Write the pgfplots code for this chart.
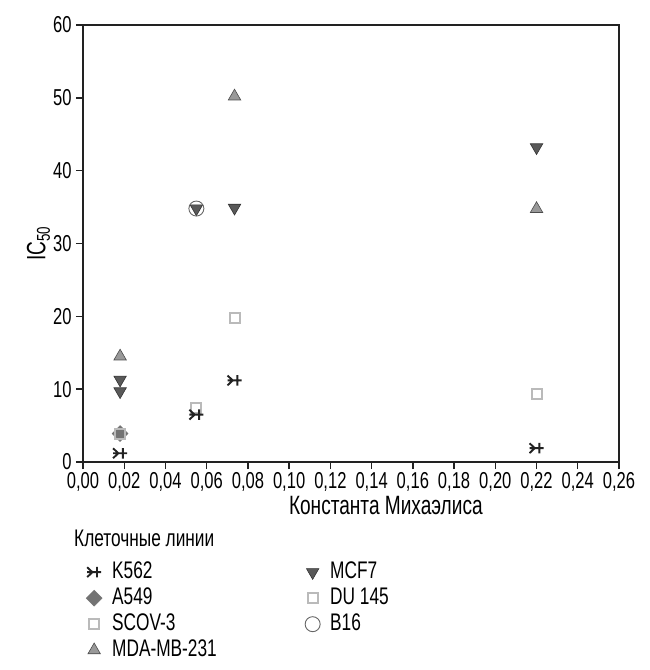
\documentclass[border=0pt]{standalone}
\usepackage{fontspec}
\setmainfont{Liberation Sans}[FakeStretch=0.72]
\usepackage{pgfplots}
\pgfplotsset{compat=1.18}

\pgfdeclareplotmark{kstar}{%
 \pgfpathmoveto{\pgfqpoint{-\pgfplotmarksize}{0pt}}%
 \pgfpathlineto{\pgfqpoint{\pgfplotmarksize}{0pt}}%
 \pgfpathmoveto{\pgfqpoint{0.4\pgfplotmarksize}{-0.75\pgfplotmarksize}}%
 \pgfpathlineto{\pgfqpoint{0.4\pgfplotmarksize}{0.75\pgfplotmarksize}}%
 \pgfpathmoveto{\pgfqpoint{-\pgfplotmarksize}{0.7\pgfplotmarksize}}%
 \pgfpathlineto{\pgfqpoint{-0.25\pgfplotmarksize}{0pt}}%
 \pgfpathlineto{\pgfqpoint{-\pgfplotmarksize}{-0.7\pgfplotmarksize}}%
 \pgfusepathqstroke}

\definecolor{axcol}{HTML}{222222}
\newcommand{\ff}{\fontsize{24}{29}\selectfont}
\newcommand{\ft}{\fontsize{23}{28}\selectfont}
\newcommand{\fl}{\fontsize{26.5}{31}\selectfont}
\pgfplotsset{
 sK/.style={only marks, mark=kstar, mark size=7pt, mark options={draw=axcol, line width=1.9pt}},
 sM/.style={only marks, mark=triangle*, mark size=7.2pt, mark options={rotate=180, fill=black!65, draw=black!80, line width=0.6pt}},
 sA/.style={only marks, mark=diamond*, mark size=8pt, mark options={xscale=1.33, fill=black!55, draw=black!55}},
 sD/.style={only marks, mark=square, mark size=5pt, mark options={draw=black!27, line width=2pt}},
 sS/.style={only marks, mark=square, mark size=5pt, mark options={draw=black!27, line width=2pt}},
 sB/.style={only marks, mark=o, mark size=7.5pt, mark options={draw=black!60, line width=0.9pt}},
 sT/.style={only marks, mark=triangle*, mark size=7.2pt, mark options={fill=black!40, draw=black!70, line width=0.6pt}},
}

\begin{document}
\begin{tikzpicture}
\useasboundingbox (-83pt,-208pt) rectangle (566pt,462pt);
\begin{axis}[
 name=ax,
 at={(0,0)}, anchor=south west,
 scale only axis, width=536pt, height=437pt,
 xmin=0, xmax=0.26, ymin=0, ymax=60,
 xtick={0,0.02,0.04,0.06,0.08,0.10,0.12,0.14,0.16,0.18,0.20,0.22,0.24,0.26},
 ytick={0,10,20,30,40,50,60},
 xtick pos=bottom, ytick pos=left,
 tick align=outside, major tick length=7pt,
 every tick/.style={axcol, line width=1.4pt},
 axis line style={axcol, line width=2.4pt},
 /pgf/number format/assume math mode=true,
 x tick label style={/pgf/number format/.cd, fixed, fixed zerofill, precision=2, use comma, /tikz/.cd, font=\ft, yshift=0pt},
 y tick label style={font=\ft, xshift=-1pt},
 scaled x ticks=false,
 xlabel={Константа Михаэлиса},
 xlabel style={at={(axis description cs:0.565,-0.1)}, anchor=center, font=\fl},
 ylabel={IC\textsubscript{50}},
 ylabel style={at={(axis description cs:-0.083,0.5)}, anchor=center, font=\fl},
 legend columns=2,
 legend style={at={(axis description cs:0.0056,-0.2265)}, anchor=north west, draw=none, fill=none,
   font=\ff, inner sep=0pt, row sep=4pt,
   nodes={inner sep=0pt, text height=17pt, text depth=5pt},
   /tikz/every odd column/.append style={column sep=10pt},
   /tikz/every even column/.append style={column sep=0pt}},
 legend cell align=left,
 legend image code/.code={\draw[mark repeat=2,mark phase=2,#1] plot coordinates {(-7pt,0pt)(0pt,0pt)(7pt,0pt)};},
]
% data
\addplot[sA, forget plot] coordinates {(0.018,3.9)};
\addplot[sS, forget plot] coordinates {(0.018,3.9)};
\addplot[sD, forget plot] coordinates {(0.055,7.4) (0.0735,19.8) (0.22,9.3)};
\addplot[sK, forget plot] coordinates {(0.018,1.2) (0.055,6.5) (0.0735,11.2) (0.22,1.9)};
\addplot[sT, forget plot] coordinates {(0.018,14.5) (0.0735,50.2) (0.22,34.75)};
\addplot[sM, forget plot] coordinates {(0.018,9.7) (0.018,11.3) (0.055,34.8) (0.0735,34.9) (0.22,43.2)};
\addplot[sB, forget plot] coordinates {(0.055,34.8)};
% legend (row-wise order)
\addlegendimage{sK}\addlegendentry{\makebox[193pt][l]{K562}}
\addlegendimage{sM}\addlegendentry{MCF7}
\addlegendimage{sA}\addlegendentry{\makebox[193pt][l]{A549}}
\addlegendimage{sD}\addlegendentry{DU 145}
\addlegendimage{sS}\addlegendentry{\makebox[193pt][l]{SCOV-3}}
\addlegendimage{sB}\addlegendentry{B16}
\addlegendimage{sT}\addlegendentry{\makebox[193pt][l]{MDA-MB-231}}
\end{axis}
\node[anchor=west, font=\ff, inner sep=0pt] at (-9pt,-76pt) {Клеточные линии};
\end{tikzpicture}
\end{document}
